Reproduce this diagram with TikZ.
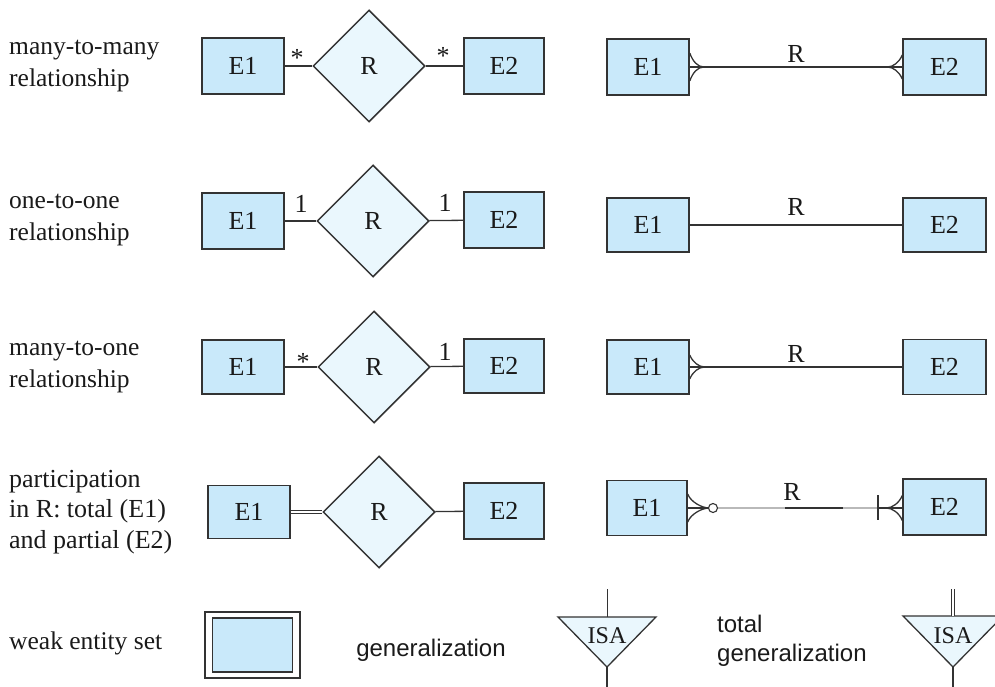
\documentclass[tikz,border=0pt]{standalone}
\usepackage{fontspec}
\setmainfont{Liberation Serif}
\newfontfamily\labsans{Liberation Sans}
\usetikzlibrary{shapes.geometric}
\definecolor{entfill}{HTML}{C9E9FA}
\definecolor{relfill}{HTML}{EAF7FD}
\definecolor{linec}{HTML}{333333}
\definecolor{txt}{HTML}{1A1A1A}
\newcommand{\crowtoright}[3]{% #1 point on box edge, #2 length, #3 half spread
  \draw[conn] (#1) ++(0,-#3) .. controls +(3,0.6*#3) and +(-6,0) .. ++(#2,#3);
  \draw[conn] (#1) ++(0,#3) .. controls +(3,-0.6*#3) and +(-6,0) .. ++(#2,-#3);}
\newcommand{\crowtoleft}[3]{%
  \draw[conn] (#1) ++(0,-#3) .. controls +(-3,0.6*#3) and +(6,0) .. ++(-#2,#3);
  \draw[conn] (#1) ++(0,#3) .. controls +(-3,-0.6*#3) and +(6,0) .. ++(-#2,-#3);}
\begin{document}
\begin{tikzpicture}[x=1pt,y=-1pt,
  every node/.style={text=txt, font=\fontsize{26}{31}\selectfont},
  ent/.style={draw=linec, fill=entfill, line width=1.5pt, minimum width=82pt, minimum height=56pt, inner sep=0pt},
  rel/.style={draw=linec, fill=relfill, shape=diamond, line width=1.5pt, minimum width=112pt, minimum height=112pt, inner sep=0pt},
  conn/.style={draw=linec, line width=1.3pt},
  card/.style={inner sep=0pt},
  rlab/.style={inner sep=0pt},
  lab/.style={anchor=west, align=left, inner sep=0pt, font=\fontsize{25.5}{31.5}\selectfont},
  gsans/.style={inner sep=0pt, font=\labsans\fontsize{24}{29}\selectfont},
  isa/.style={fill=relfill, draw=linec, line width=1.3pt, line join=miter},
]
\clip (0,0) rectangle (995,687);
\fill[white] (0,0) rectangle (995,687);

% ---------- left labels
\node[lab] (l1) at (9,66) {many-to-many\\relationship};
\node[lab] (l2) at (9,220) {one-to-one\\relationship};
\node[lab] (l3) at (9,367) {many-to-one\\relationship};
\node[lab, font=\fontsize{26}{30.5}\selectfont] (l4) at (9,512) {participation\\in R: total (E1)\\and partial (E2)};
\node[lab] (l5) at (9,643) {weak entity set};

% ---------- row 1 (many-to-many)
\node[ent] (a1) at (243,66) {E1};
\node[rel] (r1) at (369,66) {R};
\node[ent, minimum width=80pt] (b1) at (504,66) {E2};
\draw[conn] (a1) -- (r1);
\draw[conn] (r1) -- (b1);
\node[card, anchor=base] (s1a) at (297,67) {*};
\node[card, anchor=base] (s1b) at (443,65) {*};

\node[ent] (c1) at (648,67) {E1};
\node[ent, minimum width=83pt] (d1) at (944.5,67) {E2};
\draw[conn] (c1) -- (d1) node[rlab, midway, above=4pt] (t1) {R};
\crowtoright{c1.east}{14}{14}
\crowtoleft{d1.west}{15}{12}

% ---------- row 2 (one-to-one)
\node[ent] (a2) at (243,221) {E1};
\node[rel] (r2) at (373,221) {R};
\node[ent, minimum width=80pt] (b2) at (504,220) {E2};
\draw[conn] (a2) -- (r2);
\draw[conn] (r2) -- (b2);
\node[card] (s2a) at (301,204) {1};
\node[card] (s2b) at (445,203) {1};

\node[ent, minimum height=54pt] (c2) at (648,225) {E1};
\node[ent, minimum width=83pt, minimum height=54pt] (d2) at (944.5,225) {E2};
\draw[conn] (c2) -- (d2) node[rlab, midway, above=9pt] (t2) {R};

% ---------- row 3 (many-to-one)
\node[ent, minimum height=54pt] (a3) at (243,367) {E1};
\node[rel] (r3) at (374,367) {R};
\node[ent, minimum width=80pt, minimum height=54pt] (b3) at (504,366) {E2};
\draw[conn] (a3) -- (r3);
\draw[conn] (r3) -- (b3);
\node[card, anchor=base] (s3a) at (303,370) {*};
\node[card] (s3b) at (445,352) {1};

\node[ent, minimum height=54pt] (c3) at (648,367) {E1};
\node[ent, minimum width=83pt, minimum height=55pt] (d3) at (944.5,367) {E2};
\draw[conn] (c3) -- (d3) node[rlab, midway, above=4pt] (t3) {R};
\crowtoright{c3.east}{15}{12}

% ---------- row 4 (participation)
\node[ent, minimum height=53pt] (a4) at (249,512) {E1};
\node[rel] (r4) at (379,512) {R};
\node[ent, minimum width=80pt] (b4) at (504,511) {E2};
\draw[conn, double=white, double distance=2pt, line width=1pt] (a4) -- (r4);
\draw[conn] (r4) -- (b4);

\node[ent, minimum width=80pt, minimum height=55pt] (c4) at (647,508) {E1};
\node[ent, minimum width=83pt, minimum height=56pt] (d4) at (944.5,507) {E2};
\node[circle, draw=linec, line width=1.1pt, fill=white, minimum size=9pt, inner sep=0pt] (o4) at (713,508) {};
\coordinate (m4a) at (785,508);
\coordinate (m4b) at (843,508);
\coordinate (bar4) at (878,508);
\draw[conn] (c4.east |- o4) -- (o4);
\draw[conn, draw=gray!55] (o4) -- (bar4);
\draw[conn] (m4a) -- (m4b);
\draw[conn] (bar4) -- (d4.west |- bar4);
\draw[conn, line width=1.1pt] (bar4) ++(0,-13) -- ++(0,25);
\crowtoright{c4.east |- o4}{21}{14}
\crowtoleft{d4.west |- bar4}{16}{12.5}
\node[rlab] (t4) at (792,492) {R};

% ---------- row 5
\node[draw=linec, line width=1.1pt, minimum width=95pt, minimum height=66pt, inner sep=0pt] (w) at (252.5,645) {};
\node[draw=linec, fill=entfill, line width=1.1pt, minimum width=80pt, minimum height=54pt, inner sep=0pt] (wi) at (w.center) {};

\node[gsans] (l6) at (431,650) {generalization};

\coordinate (g1l) at (558,617);
\coordinate (g1r) at (656,617);
\coordinate (g1a) at (607,667);
\coordinate (g1t) at (607,617);
\coordinate (g1u) at (607,589);
\coordinate (g1d) at (607,690);
\path[isa] (g1l) -- (g1r) -- (g1a) -- cycle;
\node[inner sep=0pt, font=\fontsize{24}{29}\selectfont] (i1) at (607,636) {ISA};
\draw[conn, line width=1pt] (g1u) -- (g1t);
\draw[conn] (g1a) -- (g1d);

\node[lab, font=\labsans\fontsize{24}{29.5}\selectfont] (l7) at (717,641) {total\\generalization};

\coordinate (g2l) at (903,616);
\coordinate (g2r) at (1003,616);
\coordinate (g2a) at (953,667);
\coordinate (g2t) at (953,616);
\coordinate (g2u) at (953,589);
\coordinate (g2d) at (953,690);
\path[isa] (g2l) -- (g2r) -- (g2a) -- cycle;
\node[inner sep=0pt, font=\fontsize{24}{29}\selectfont] (i2) at (953,636) {ISA};
\draw[conn, double=white, double distance=2.2pt, line width=0.9pt] (g2u) -- (g2t);
\draw[conn] (g2a) -- (g2d);
\end{tikzpicture}
\end{document}
